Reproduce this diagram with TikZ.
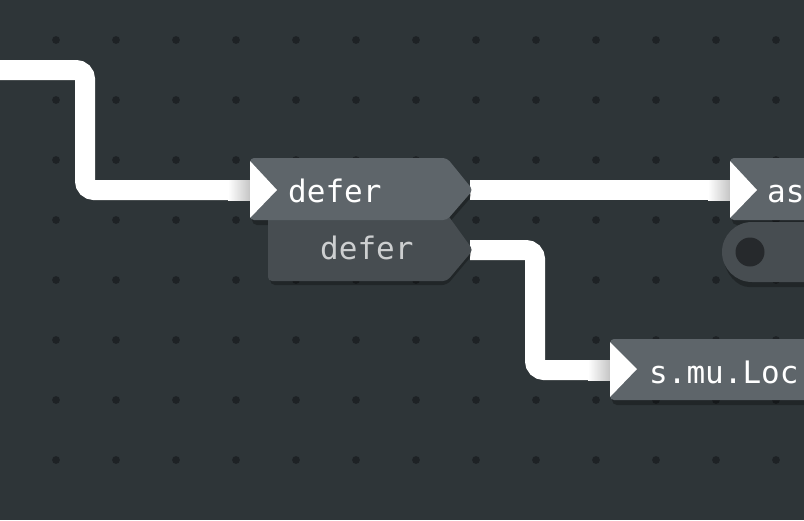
\documentclass[tikz,border=0pt]{standalone}
\usepackage{fontspec}
\setmonofont{DejaVu Sans Mono}
\definecolor{bg}{HTML}{2E3538}
\definecolor{dotc}{HTML}{1E2225}
\definecolor{nodeA}{HTML}{5E656A}
\definecolor{nodeB}{HTML}{474D51}
\definecolor{holec}{HTML}{26292C}
\definecolor{dimtext}{HTML}{CDCFD0}
\tikzset{
  wire/.style={draw=white, line width=20pt, rounded corners=9pt},
  blockA/.style={fill=nodeA, rounded corners=4pt},
  blockB/.style={fill=nodeB, rounded corners=4pt},
  shadowc/.style={fill=black, opacity=0.28, rounded corners=5pt},
  notch/.style={fill=white},
  label/.style={inner sep=0pt, anchor=base west, text=white, font=\ttfamily\fontsize{31}{32}\selectfont},
  dimlabel/.style={label, text=dimtext}
}
\begin{document}
\begin{tikzpicture}[x=1pt, y=-1pt]
\fill[bg] (0,0) rectangle (804,520);
\useasboundingbox (0,0) rectangle (804,520);
% dot grid
\foreach \x in {56,116,...,776}
  \foreach \y in {40,100,...,460}
    \fill[dotc] (\x,\y) circle (3.9);
% ports / coordinates
\coordinate (w0) at (0,70);
\coordinate (d1in) at (252,190);
\coordinate (d1out) at (470,190);
\coordinate (d2out) at (470,250);
\coordinate (asin) at (732,190);
\coordinate (lkin) at (612,370);
% wires
\draw[wire] (w0) -| (85,190) -- (d1in);
\draw[wire] (d1out) -- (asin);
\draw[wire] (d2out) -| (535,370) -- (lkin);
% shading of wires near node entries
\shade[left color=white, right color=white!75!black] (228,180) rectangle (252,200);
\shade[left color=white, right color=white!75!black] (708,180) rectangle (732,200);
\shade[left color=white, right color=white!75!black] (588,360) rectangle (612,380);
% shadows
\path[shadowc] (270,222) -- (447,222) -- (473,254) -- (447,285) -- (270,285) -- cycle;
\path[shadowc] (252,163) -- (447,163) -- (473,195) -- (447,225) -- (252,225) -- cycle;
\path[shadowc] (754,287) arc[start angle=90, end angle=270, radius=30] -- (820,227) -- (820,287) -- cycle;
\path[shadowc] (732,163) -- (820,163) -- (820,225) -- (732,225) -- cycle;
\path[shadowc] (612,343) -- (820,343) -- (820,405) -- (612,405) -- cycle;
% lower defer block
\path[blockB] (268,214) -- (447,214) -- (473,250) -- (447,281) -- (268,281) -- cycle;
\node[dimlabel] (d2) at (320,259) {defer};
% upper defer block
\path[blockA] (250,158) -- (447,158) -- (473,190) -- (447,220) -- (250,220) -- cycle;
\path[notch] (250,161) -- (277,190) -- (250,218) -- cycle;
\node[label] (d1) at (288,202) {defer};
% port pill under "as" block
\path[fill=nodeB] (752,282) arc[start angle=90, end angle=270, radius=30] -- (820,222) -- (820,282) -- cycle;
\fill[holec] (750,252) circle (14.5);
% "as" block
\path[blockA] (730,158) -- (820,158) -- (820,220) -- (730,220) -- cycle;
\path[notch] (730,161) -- (757,190) -- (730,218) -- cycle;
\node[label] (as) at (767,202) {as};
% s.mu.Loc block
\path[blockA] (610,339) -- (820,339) -- (820,400) -- (610,400) -- cycle;
\path[notch] (610,342) -- (637,369) -- (610,397) -- cycle;
\node[label] (lk) at (649,383) {s.mu.Loc};
\end{tikzpicture}
\end{document}
